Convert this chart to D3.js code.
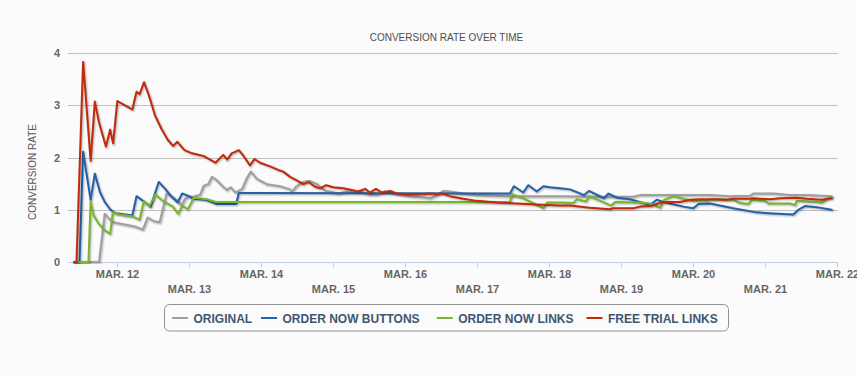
<!DOCTYPE html>
<html><head><meta charset="utf-8">
<script src="https://cdn.jsdelivr.net/npm/d3@7"></script>
<style>
html,body{margin:0;padding:0;background:#fbfbfb;}
svg{display:block;font-family:"Liberation Sans",Arial,sans-serif;}
</style></head><body><svg id="chart" width="857" height="376"></svg>
<script>
// ---------- data ----------
const chartTitle = "CONVERSION RATE OVER TIME";
const yAxisTitle = "CONVERSION RATE";
const seriesNames = ["ORIGINAL", "ORDER NOW BUTTONS", "ORDER NOW LINKS", "FREE TRIAL LINKS"];
const seriesColors = ["#a0a0a0", "#2162aa", "#78b62a", "#c22a0a"];
const yTicks = [0, 1, 2, 3, 4];
const tickDays = [12, 13, 14, 15, 16, 17, 18, 19, 20, 21, 22];
const monthLabel = "MAR.";
// points: [hours since Mar 11 00:00, conversion rate]
const original = [[9.7,0],[18,0],[19.9,0.92],[21.7,0.81],[22.7,0.76],[29.9,0.68],[32.6,0.62],[34.2,0.85],[36.3,0.78],[38.2,0.76],[40.5,1.31],[42.6,1.24],[44.4,1.16],[45.5,1.08],[46.7,1.21],[47.8,1.25],[49.4,1.25],[51.7,1.29],[52.9,1.46],[54.4,1.49],[55.6,1.63],[57.3,1.56],[59.5,1.43],[60.6,1.38],[61.8,1.43],[63.5,1.33],[65.7,1.40],[67.2,1.60],[68.6,1.73],[70.6,1.59],[73.9,1.49],[78.3,1.45],[81.7,1.39],[82.3,1.34],[83.8,1.45],[85.6,1.52],[87.3,1.55],[88.3,1.55],[90.6,1.49],[93.3,1.37],[95,1.35],[97.8,1.31],[100.6,1.35],[105,1.35],[108.3,1.29],[110.6,1.29],[113.3,1.35],[117.2,1.30],[121.7,1.26],[126.1,1.24],[128.3,1.22],[130.7,1.28],[132.8,1.36],[135,1.35],[139.4,1.31],[143.9,1.28],[155,1.26],[171.7,1.26],[185,1.25],[196.1,1.25],[198.3,1.28],[207.2,1.28],[221.7,1.28],[228.3,1.26],[235,1.27],[236.1,1.31],[242.8,1.31],[248.3,1.28],[253.9,1.28],[262.2,1.26]];
const orderNowButtons = [[9.7,0],[11.5,0],[12.7,2.11],[15.2,1.19],[16.6,1.69],[18.3,1.34],[19.9,1.15],[21.7,1.01],[23.2,0.94],[29.1,0.89],[30.5,1.26],[33.1,1.15],[35.2,1.06],[37.9,1.53],[39.9,1.41],[42.2,1.25],[44.2,1.14],[45.7,1.31],[48,1.26],[49.4,1.21],[53.7,1.19],[57.2,1.11],[63.7,1.11],[64.6,1.32],[155,1.31],[156.3,1.45],[159.4,1.33],[161.1,1.47],[163.9,1.35],[166.1,1.45],[168.3,1.43],[171.7,1.41],[175,1.39],[179.7,1.28],[181.3,1.36],[186.3,1.22],[187.8,1.31],[190.7,1.23],[195,1.20],[199.4,1.13],[201.7,1.09],[203.9,1.19],[206.1,1.15],[212.8,1.06],[216.1,1.03],[217.8,1.11],[221.7,1.12],[229.4,1.03],[237.2,0.95],[242.8,0.93],[249.4,0.91],[251.1,1.00],[253.3,1.07],[257.2,1.05],[262.2,1.00]];
const orderNowLinks = [[9.7,0],[14.5,0],[15.2,1.15],[16.2,0.89],[17.8,0.74],[19.8,0.61],[21.7,0.54],[22.6,0.95],[24.7,0.91],[29.3,0.87],[31.5,0.81],[32.9,1.16],[34.8,1.07],[36.8,1.29],[38.8,1.19],[40.7,1.12],[42.6,1.06],[44.4,0.92],[45.7,1.08],[47.6,1.01],[49.6,1.23],[53.9,1.20],[57,1.15],[155,1.15],[155.6,1.30],[159.4,1.22],[166.1,1.03],[167.4,1.14],[171.7,1.14],[176.1,1.13],[177.2,1.20],[180.3,1.16],[181.5,1.26],[188.7,1.08],[190,1.15],[198.3,1.14],[201.7,1.12],[205,1.04],[206.3,1.19],[209.4,1.26],[212.8,1.21],[216.1,1.17],[220.6,1.17],[221.7,1.20],[229.4,1.19],[231.7,1.13],[234.4,1.11],[235.6,1.19],[240,1.17],[241.1,1.12],[248.3,1.12],[250,1.09],[250.6,1.17],[257.2,1.15],[258.9,1.14],[260.6,1.20],[262.2,1.24]];
const freeTrialLinks = [[9.7,0],[10.5,0],[12.7,3.83],[15.2,1.94],[16.6,3.07],[18,2.67],[20.3,2.21],[21.7,2.53],[22.7,2.27],[24.1,3.08],[29.1,2.92],[30.5,3.26],[31.5,3.21],[33,3.44],[34.8,3.16],[36.7,2.80],[38.8,2.55],[40.9,2.34],[42.7,2.22],[44.1,2.30],[46.5,2.14],[49,2.08],[52.8,2.03],[54.4,1.98],[56.8,1.90],[59.4,2.05],[60.7,1.96],[62.2,2.08],[64.6,2.14],[66.3,2.02],[68.3,1.85],[69.8,1.97],[71.7,1.90],[75,1.83],[78.3,1.75],[79.4,1.73],[81.7,1.63],[83.9,1.56],[86.1,1.49],[87.8,1.53],[90,1.44],[91.7,1.41],[93.7,1.47],[96.1,1.43],[99.4,1.41],[102.2,1.38],[104.4,1.35],[106.7,1.40],[108.3,1.33],[110.3,1.40],[112.2,1.33],[115,1.36],[117.2,1.31],[121.7,1.29],[126.1,1.30],[128.3,1.31],[130.6,1.30],[132.2,1.31],[135,1.26],[139.4,1.21],[143.9,1.17],[150.6,1.14],[157.2,1.12],[163.9,1.10],[171.7,1.08],[175,1.08],[181.7,1.04],[188.3,1.01],[189.4,1.03],[196.1,1.03],[198.3,1.06],[201.7,1.07],[203.9,1.11],[206.1,1.15],[211.7,1.15],[215,1.19],[218.3,1.20],[223.9,1.20],[227.2,1.19],[229.4,1.21],[235,1.21],[236.1,1.22],[241.7,1.20],[245,1.22],[250.6,1.23],[253.9,1.21],[258.9,1.19],[260.6,1.21],[262.2,1.22]];
const seriesData = [original, orderNowButtons, orderNowLinks, freeTrialLinks];

// ---------- chart ----------
const svg = d3.select("#chart");
const base = Date.UTC(2013, 2, 11);
const HOUR = 3600e3;
const t = h => new Date(base + h * HOUR);
const plot = {left: 68, right: 838, top: 53, bottom: 262};

const x = d3.scaleUtc().domain([t(7.667), t(264.333)]).range([plot.left, plot.right]);
const y = d3.scaleLinear().domain([0, 4]).range([plot.bottom, plot.top]);

// title
svg.append("text").attr("x", 446.5).attr("y", 40.7).attr("text-anchor", "middle")
  .style("font-size", "10px").style("fill", "#4d4d4d").text(chartTitle);

// gridlines
svg.append("g").selectAll("line").data(yTicks.filter(v => v > 0)).join("line")
  .attr("x1", plot.left).attr("x2", plot.right)
  .attr("y1", d => Math.round(y(d)) + 0.5).attr("y2", d => Math.round(y(d)) + 0.5)
  .attr("stroke", "#c0c0c0").attr("stroke-width", 1);

// y axis labels
const yAxis = d3.axisLeft(y).tickValues(yTicks).tickSize(0).tickPadding(8).tickFormat(d3.format("d"));
const gy = svg.append("g").attr("transform", `translate(${plot.left},0)`).call(yAxis);
gy.select(".domain").remove();
gy.selectAll("text").style("font-size", "11px").style("font-weight", "bold")
  .style("fill", "#666").style("font-family", "'Liberation Sans',Arial,sans-serif");

// y axis title
svg.append("text").attr("transform", "translate(36,172) rotate(-90)").attr("text-anchor", "middle")
  .style("font-size", "10px").style("fill", "#555").text(yAxisTitle);

// x axis
const tickDates = tickDays.map(d => new Date(Date.UTC(2013, 2, d)));
const xAxis = d3.axisBottom(x).tickValues(tickDates).tickSize(5).tickSizeOuter(0)
  .tickFormat(d => monthLabel + " " + d.getUTCDate());
const gx = svg.append("g").attr("transform", `translate(0,${plot.bottom + 0.5})`).call(xAxis);
gx.select(".domain").attr("stroke", "#c0d0e0").attr("d", `M${plot.left},0H${plot.right}`);
gx.selectAll(".tick line").attr("stroke", "#c0d0e0");
gx.selectAll(".tick text")
  .attr("y", (d, i) => (tickDays[i] % 2 === 0 ? 8 : 22.5))
  .style("font-size", "11px").style("font-weight", "bold").style("fill", "#666")
  .style("font-family", "'Liberation Sans',Arial,sans-serif");

// lines
svg.append("clipPath").attr("id", "plotclip").append("rect")
  .attr("x", plot.left).attr("y", plot.top - 10).attr("width", plot.right - plot.left + 5)
  .attr("height", plot.bottom - plot.top + 12);
const line = d3.line().x(d => x(t(d[0]))).y(d => y(d[1]));
const lg = svg.append("g").attr("clip-path", "url(#plotclip)");
seriesData.forEach((data, i) => {
  const g = lg.append("g");
  [[5, 0.05], [3, 0.1], [1, 0.15]].forEach(([w, o]) => {
    g.append("path").datum(data).attr("d", line).attr("fill", "none")
      .attr("stroke", "#000").attr("stroke-opacity", o).attr("stroke-width", w)
      .attr("stroke-linejoin", "round").attr("stroke-linecap", "round")
      .attr("transform", "translate(1,1)");
  });
  g.append("path").datum(data).attr("d", line).attr("fill", "none")
    .attr("stroke", seriesColors[i]).attr("stroke-width", 2)
    .attr("stroke-linejoin", "round").attr("stroke-linecap", "round");
});

// legend
const legendItemX = [172, 261, 436.7, 586.5];
const lgd = svg.append("g");
lgd.append("rect").attr("x", 164.5).attr("y", 304.5).attr("width", 564).attr("height", 26.5)
  .attr("rx", 5).attr("fill", "none").attr("stroke", "#909090").attr("stroke-width", 1);
seriesNames.forEach((name, i) => {
  const gx0 = legendItemX[i];
  lgd.append("line").attr("x1", gx0).attr("x2", gx0 + 16).attr("y1", 318).attr("y2", 318)
    .attr("stroke", seriesColors[i]).attr("stroke-width", 2);
  lgd.append("text").attr("x", gx0 + 21.5).attr("y", 322.5)
    .style("font-size", "12px").style("font-weight", "bold").style("fill", "#3e576f").text(name);
});
</script></body></html>
